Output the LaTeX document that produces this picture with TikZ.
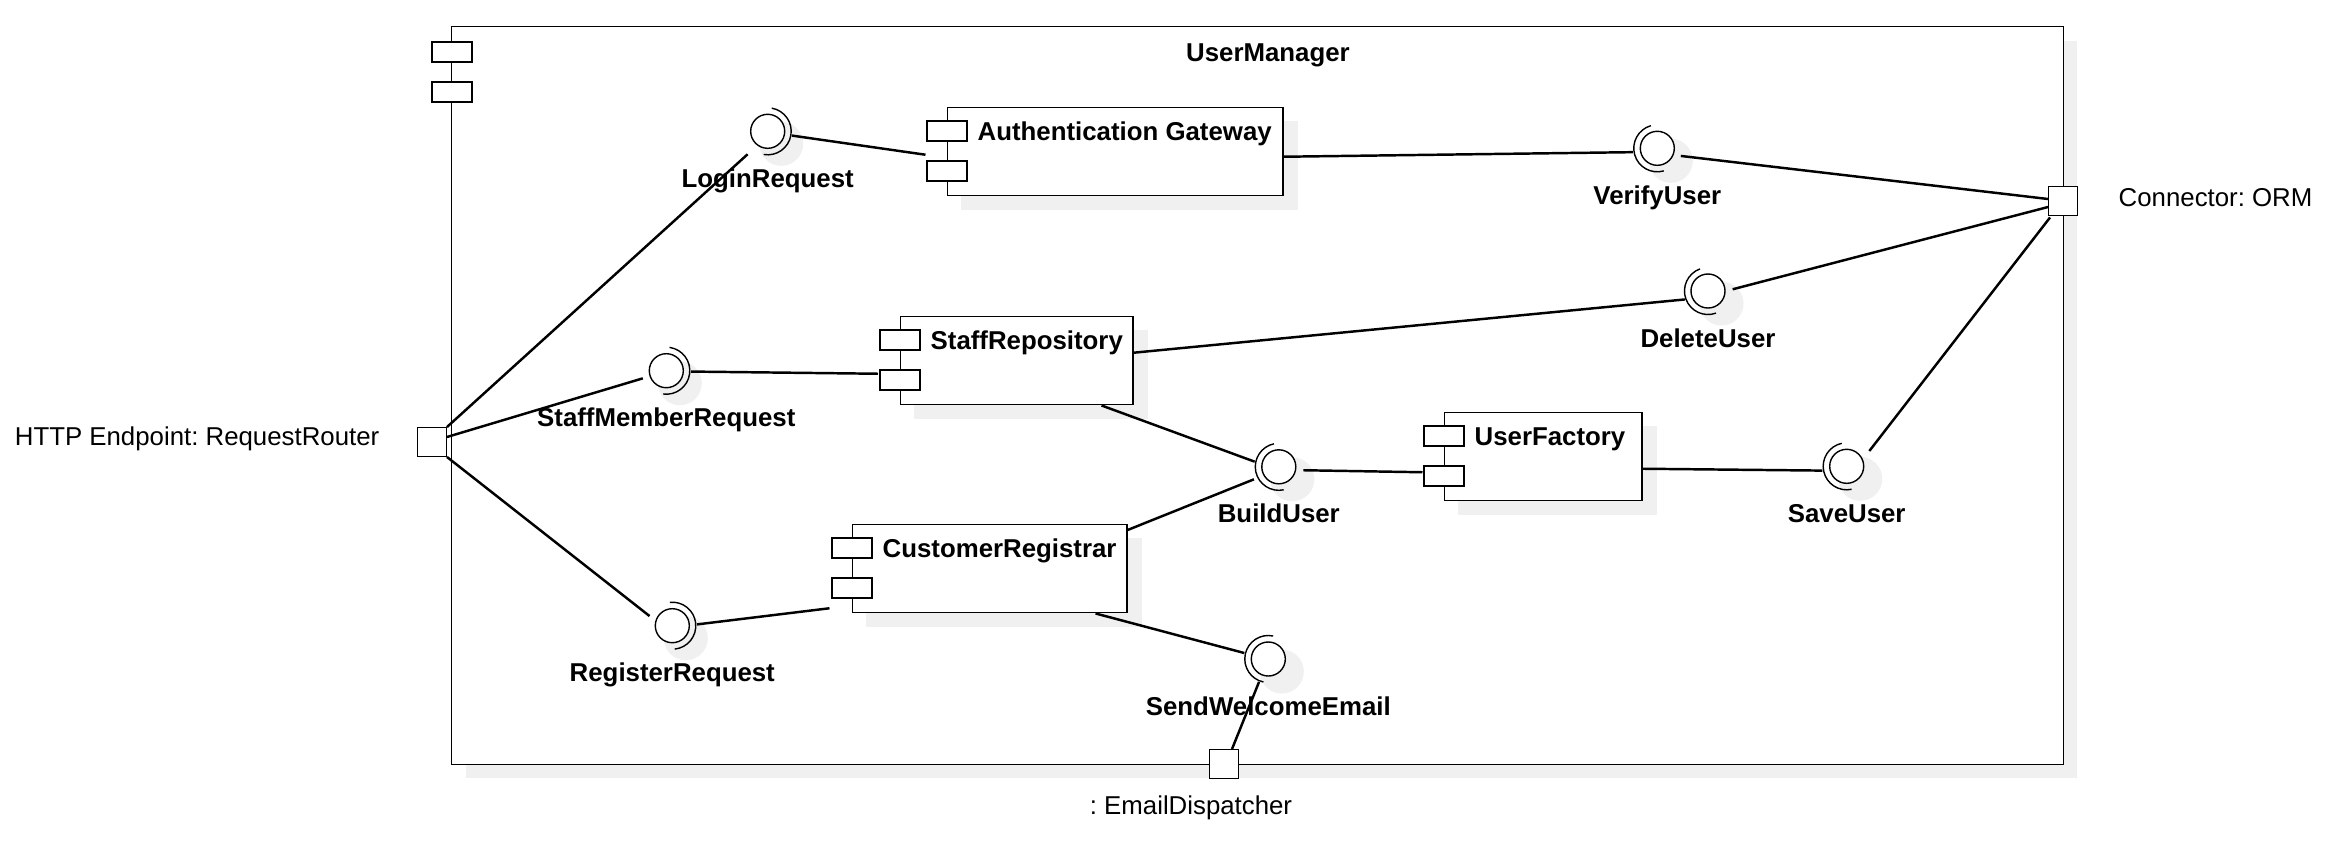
\documentclass[tikz,border=0pt]{standalone}
\usepackage{fontspec}
\setmainfont{Liberation Sans}
\usetikzlibrary{calc}
\frenchspacing
\definecolor{umlshadow}{RGB}{240,240,240}
\pgfdeclarelayer{back}
\pgfdeclarelayer{shadow}
\pgfsetlayers{back,shadow,main}
\newcommand\umlcomp[5]{% name, left, top, width, text
  \node[comp, minimum width=#4, anchor=north west] (#1) at (#2,#3) {};
  \begin{pgfonlayer}{shadow}
    \fill[fill=umlshadow] ([shift={(14,14)}]#1.north west) rectangle ([shift={(14,14)}]#1.south east);
  \end{pgfonlayer}
  \node[tab] (#1-t1) at (#2,#3+24) {};
  \node[tab] (#1-t2) at (#2,#3+64) {};
  \node[lbl, anchor=base west] (#1-l) at (#2+30,#3+33) {#5};
}
\newcommand\umliface[5]{% name, x, y, socket direction, label
  \node[hub] (#1) at (#2,#3) {};
  \begin{pgfonlayer}{shadow}
    \fill[fill=umlshadow] ([shift={(13.5,12.5)}]#1.center) circle[radius=0.22cm];
  \end{pgfonlayer}
  \node[ball] (#1-b) at (#1.center) {};
  \pgfmathsetmacro\umlsa{#4+90}
  \pgfmathsetmacro\umlea{#4-90}
  \draw ([shift={(\umlsa:0.235cm)}]#1.center) arc[start angle=\umlsa, end angle=\umlea, radius=0.235cm];
  \node[lbl, anchor=base] (#1-l) at ([yshift=-0.56cm]#1.center) {#5};
}
\begin{document}
\begin{tikzpicture}[x=0.01cm,y=-0.01cm, line width=0.7pt,
  comp/.style={draw, fill=white, rectangle, inner sep=0pt, minimum height=0.88cm},
  tab/.style={draw, fill=white, rectangle, inner sep=0pt, minimum width=0.40cm, minimum height=0.20cm},
  port/.style={draw, fill=white, rectangle, inner sep=0pt, minimum size=0.285cm},
  hub/.style={circle, inner sep=0pt, minimum size=0.48cm},
  ball/.style={circle, draw, fill=white, inner sep=0pt, minimum size=0.34cm},
  lbl/.style={font=\fontsize{7.34}{8.8}\selectfont\bfseries, inner sep=0pt},
  plain/.style={font=\fontsize{7.34}{8.8}\selectfont, inner sep=0pt},
  conn/.style={draw, line width=0.7pt},
]
\useasboundingbox (0,0) rectangle (2326,842);

% frame
\begin{pgfonlayer}{back}
  \fill[fill=umlshadow] (466,41) rectangle (2077,778);
  \node[draw, fill=white, inner sep=0pt, minimum width=16.11cm, minimum height=7.37cm] (frame) at (1257.5,395.5) {};
\end{pgfonlayer}
\node[tab] (ft1) at (452,52) {};
\node[tab] (ft2) at (452,92) {};
\node[lbl, anchor=base] (ttl) at (1268,61) {UserManager};

% components
\umlcomp{ag}{947}{107}{3.35cm}{Authentication Gateway}
\umlcomp{sr}{900}{316}{2.32cm}{StaffRepository}
\umlcomp{uf}{1444}{412}{1.97cm}{UserFactory}
\umlcomp{cr}{852}{524}{2.74cm}{CustomerRegistrar}

% interfaces
\umliface{iLogin}{767.7}{131.3}{-10}{LoginRequest}
\umliface{iVerify}{1657.3}{148.3}{196}{VerifyUser}
\umliface{iDelete}{1708}{291}{200}{DeleteUser}
\umliface{iStaff}{666.3}{370.7}{-8}{StaffMemberRequest}
\umliface{iBuild}{1278.8}{466.8}{192}{BuildUser}
\umliface{iSave}{1846.7}{466.3}{192}{SaveUser}
\umliface{iReg}{672.3}{625.7}{6}{RegisterRequest}
\umliface{iSWE}{1268.3}{659}{168}{SendWelcomeEmail}

% ports
\node[port] (lport) at (432,442) {};
\node[port] (rport) at (2063,201) {};
\node[port] (bport) at (1224,764) {};
\node[plain, anchor=base east] (lportl) at (380,445) {HTTP Endpoint: RequestRouter};
\node[plain, anchor=base west] (rportl) at (2118,206) {Connector: ORM};
\node[plain, anchor=base] (bportl) at (1191,814.5) {: EmailDispatcher};

% connectors
\draw[conn] (lport.north east) -- ([shift={(228.8:0.305cm)}]iLogin.center);
\draw[conn] ([yshift=0.05cm]lport.east) -- (iStaff.198.8);
\draw[conn] (lport.south east) -- (iReg.157.1);
\draw[conn] (iLogin.-10.7) -- ([xshift=-0.215cm,yshift=-0.03cm]ag.west);
\draw[conn] ([yshift=-0.05cm]ag.east) -- (iVerify.189.5);
\draw[conn] (iVerify.-18.7) -- ([yshift=0.02cm]rport.west);
\draw[conn] (iDelete.4.1) -- ([yshift=-0.06cm]rport.west);
\draw[conn] ([shift={(34.1:0.273cm)}]iSave.center) -- ([xshift=0.02cm,yshift=-0.015cm]rport.south west);
\draw[conn] (iStaff.-2.3) -- ([xshift=-0.22cm,yshift=-0.13cm]sr.west);
\draw[conn] ([yshift=0.08cm]sr.east) -- (iDelete.200.9);
\draw[conn] ([xshift=-0.32cm]sr.south east) -- (iBuild.168.4);
\draw[conn] ([yshift=-0.06cm]cr.north east) -- ([shift={(206.7:0.278cm)}]iBuild.center);
\draw[conn] (iBuild.-8) -- ([xshift=-0.215cm,yshift=-0.155cm]uf.west);
\draw[conn] ([yshift=-0.12cm]uf.east) -- (iSave.190.4);
\draw[conn] (iReg.3.3) -- ([xshift=-0.225cm,yshift=-0.395cm]cr.west);
\draw[conn] ([xshift=-0.32cm]cr.south east) -- (iSWE.166.3);
\draw[conn] (iSWE.248.6) -- ([xshift=0.08cm]bport.north);
\end{tikzpicture}
\end{document}
